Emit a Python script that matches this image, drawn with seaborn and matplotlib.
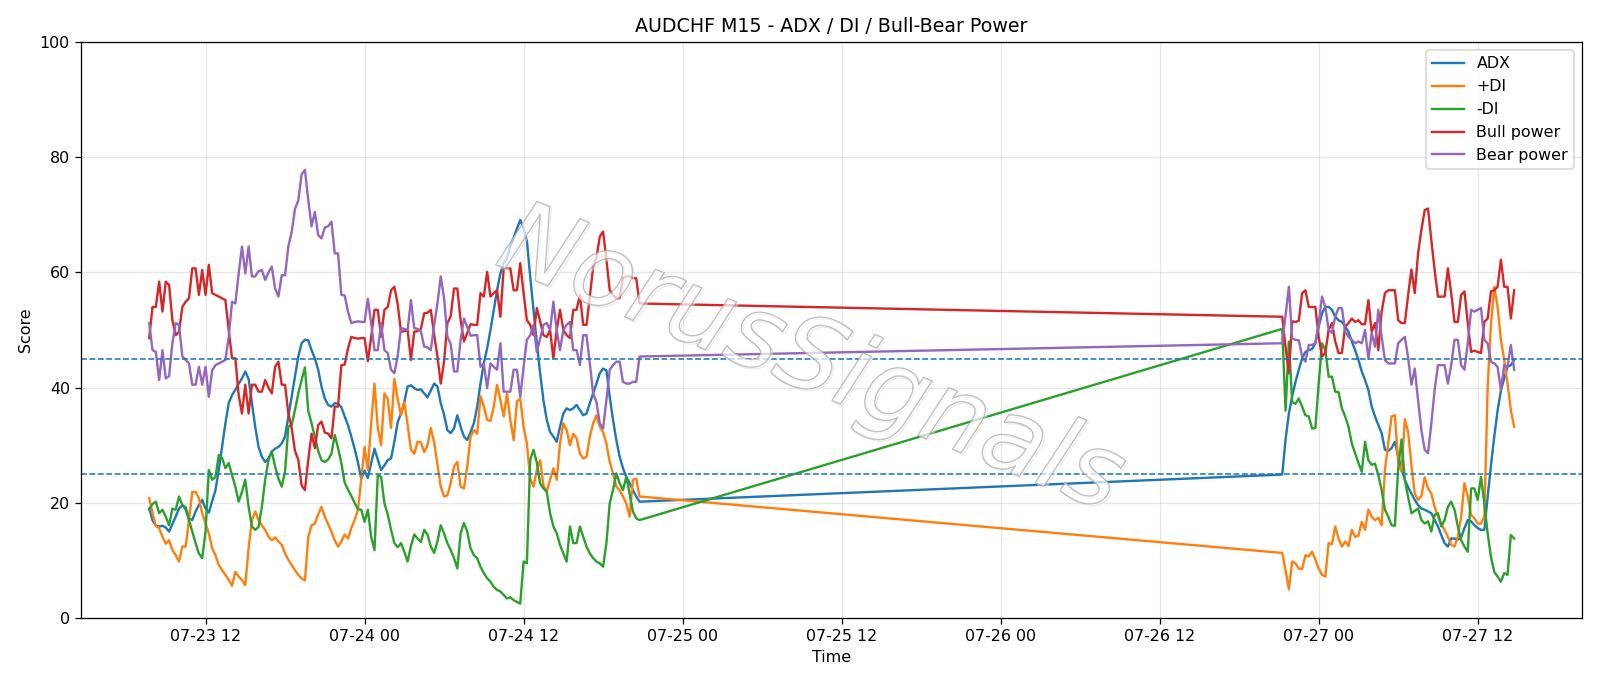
import matplotlib
matplotlib.use("Agg")
import matplotlib.pyplot as plt
import matplotlib.dates as mdates
import matplotlib.patheffects as pe
import pandas as pd
import seaborn as sns

# 基本信息
title = "AUDCHF M15 - ADX / DI / Bull-Bear Power"
watermark = "NorusSignals"

# 两段 M15 数据（周末休市中断）
seg1_start = "2025-07-23 07:45"
seg2_start = "2025-07-26 21:15"

# 第一段：ADX / +DI / -DI / Bull power / Bear power
adx_1 = [
    19, 17, 16, 15.9, 16, 15.7, 15, 16.3, 17.6, 19,
    19.6, 19.2, 17.3, 17, 18.5, 19.6, 20.5, 19, 18.3, 20.3,
    22.2, 25.7, 29.7, 33.8, 37.3, 38.7, 39.6, 40.7, 41.6, 42.8,
    41.5, 37.3, 33.2, 29.7, 28, 27.1, 27.7, 28.9, 29.4, 29.7,
    30.3, 31.5, 35, 38.4, 41.9, 45.4, 47.7, 48.3, 48.2, 46.5,
    45.1, 43.1, 40.2, 38.1, 37, 36.7, 37.3, 37.2, 36.6, 35,
    33.5, 31.5, 29.4, 27, 24.2, 25.6, 24.3, 26.9, 29.4, 27.5,
    25.7, 26.5, 27.4, 27.7, 30.6, 34, 35.5, 37.5, 40.2, 40.4,
    39.9, 39.6, 39.7, 39, 38.3, 39.5, 40.7, 40.2, 37.3, 35.3,
    32.6, 32.1, 32.9, 35.2, 33.2, 31.5, 30.9, 32.3, 33.8, 36.7,
    40.7, 44.2, 46.8, 50, 53.5, 56.9, 59.8, 61.6, 62.5, 64.5,
    66, 67.6, 69.1, 67.6, 65.5, 59.3, 53.5, 47.7, 42.5, 37.8,
    34.4, 32.3, 31.5, 30.6, 33.2, 35.5, 36.4, 36.1, 36.4, 37,
    36.1, 35.2, 35.5, 37.3, 39, 40.7, 42.5, 43.3, 43, 38.4,
    34.4, 30.9, 28, 26, 24.5, 23.4, 22.2, 21.1, 20.2,
]
plus_di_1 = [
    20.8, 18.2, 16, 15.6, 14.1, 12.9, 13.5, 11.8, 10.9, 9.8,
    12.4, 12.4, 17, 21.9, 21.9, 20.8, 18.2, 16.4, 14.7, 12.1,
    10.9, 9.2, 8.3, 7.5, 6.6, 5.6, 8, 7.2, 6.6, 5.7,
    12.1, 17, 18.5, 17, 16.1, 15.3, 14.1, 13.5, 14, 13.3,
    12.7, 11.2, 10.1, 9.2, 8.3, 7.5, 6.9, 6.5, 14, 16.1,
    16.4, 18, 19.3, 17.6, 16.3, 15, 13.5, 12.4, 13.3, 14.5,
    13.8, 15.6, 17, 18.8, 24, 29.7, 25.7, 33.8, 40.7, 33,
    30, 39, 38, 33, 41.5, 38, 35.2, 37.5, 33.5, 29.3,
    28.5, 30.6, 30.5, 28.8, 30, 33, 30.5, 26.6, 22.8, 21.1,
    21.3, 23.4, 26.3, 27.1, 22.8, 22.5, 26.3, 31.5, 32.6, 32,
    38.5, 36.7, 34.4, 34.2, 36.7, 40.5, 37.8, 35, 39, 34.4,
    30.9, 37.6, 38.1, 33.2, 30.3, 24.2, 22.8, 25.7, 27.4, 23,
    21.9, 24, 26, 24, 30.3, 33.8, 32.6, 30, 32, 31.2,
    28.6, 27.7, 28, 31.5, 33.8, 35.2, 33.2, 32.3, 30.3, 27.1,
    25.1, 22.8, 22.2, 21.1, 19.9, 17.6, 24, 24.2, 21.1,
]
minus_di_1 = [
    18.8, 19.8, 20.2, 18.2, 18.8, 17.6, 16.1, 19, 18.8, 21.1,
    19.6, 18.8, 17, 15, 13, 11.2, 10.4, 15, 25.7, 24,
    24.5, 28.3, 27.8, 26, 26.9, 24.8, 22.8, 20.2, 21.9, 24,
    19.3, 15.9, 15.3, 15.8, 19.3, 24, 27.4, 28.9, 26.3, 24.2,
    22.8, 25.4, 33.2, 33.5, 36.1, 39, 41.3, 43.5, 36, 33.8,
    31.5, 29, 27.4, 27.1, 27.5, 28.5, 31.8, 29.5, 26.9, 23.5,
    22.3, 21.2, 20, 18.9, 18.8, 16.7, 18.8, 14.1, 11.8, 24.8,
    24.5, 19.9, 18, 15.3, 13, 12.3, 13, 11.5, 9.8, 12.5,
    14.5, 13.8, 13.2, 15.3, 14.5, 12.4, 11.3, 13.3, 16.1, 14.7,
    13, 11.8, 10.4, 8.6, 14.7, 16.5, 15, 12.1, 10.9, 10.4,
    8.9, 7.8, 6.9, 6.3, 5.4, 4.9, 4.6, 4, 3.4, 3.6,
    3.1, 2.8, 2.5, 9.8, 9.5, 27.5, 29.2, 27, 23.4, 22.5,
    21.9, 18.2, 15.9, 14.7, 12.7, 11.2, 9.8, 15.9, 13, 13,
    15.9, 14.1, 12.4, 11.2, 10.4, 9.8, 9.5, 8.9, 13, 19.9,
    22.2, 25.1, 23.4, 22.2, 24.5, 21.6, 18.5, 17.3, 17,
]
bull_1 = [
    48.6, 54, 54, 58.4, 53.2, 58.4, 57.8, 51.7, 49.1, 49.7,
    54, 54.9, 55.5, 60.7, 60.7, 56.1, 60.4, 56.1, 61.3, 56.4,
    56.1, 55.8, 55.5, 55.2, 50, 45.1, 45.1, 38.7, 35.5, 40.5,
    35.5, 40.5, 40.5, 39.3, 39.3, 41.3, 40, 39, 43.6, 44.5,
    40.5, 40.5, 35.5, 33, 29, 27.5, 23, 22.2, 27.4, 32,
    29.5, 33.5, 34.1, 32.2, 32, 31.2, 36.7, 36.7, 43.9, 44,
    46.8, 48.8, 48.6, 48.5, 48.6, 48.6, 44.6, 48.8, 53.5, 53.5,
    48.8, 53.5, 54, 56.9, 57.5, 54.5, 49.7, 49.8, 50, 44.8,
    49.7, 49.8, 50.2, 52.9, 53, 53.5, 49.2, 45.4, 40.7, 44.5,
    51.2, 52.4, 57.2, 57.2, 51.7, 48, 49.5, 51, 50.9, 50.9,
    56.4, 55.8, 60.1, 55.8, 56.4, 56.9, 52.3, 60.7, 60.7, 60.7,
    56.9, 56.9, 61.6, 56.4, 51.7, 50.9, 49.1, 53.8, 51.5, 49.1,
    48.8, 50, 45.1, 50, 53.5, 50, 49.1, 48.6, 53.5, 53.5,
    56.1, 50.9, 50.9, 55.8, 61, 62.5, 66.2, 67.1, 62.2, 56.9,
    56.1, 55.5, 55.5, 59, 59.3, 59.3, 59, 59, 54.6,
]
bear_1 = [
    51.2, 46.5, 46.2, 41.3, 46.5, 41.6, 42, 47.7, 51.2, 50.9,
    45.4, 44.8, 44.2, 40.5, 40.5, 43.6, 40.5, 43.6, 38.4, 43,
    43.9, 44.2, 44.5, 44.8, 48.8, 54.9, 54.6, 59.8, 64.5, 59.8,
    64.5, 59.3, 59.3, 60.2, 60.4, 58.7, 60, 61, 57.2, 55.8,
    59.5, 59.5, 64.5, 67, 71, 72.5, 77, 77.8, 72.6, 68,
    70.5, 66.5, 65.9, 67.8, 68, 68.8, 63.3, 63.3, 56.1, 56,
    53.2, 51.2, 51.4, 51.5, 51.4, 51.4, 55.4, 51.2, 46.5, 46.5,
    51.2, 46.5, 46, 43.1, 42.5, 45.5, 50.3, 50.2, 50, 55.2,
    50.3, 50.2, 49.8, 47.1, 47, 46.5, 50.8, 54.6, 59.3, 55.5,
    48.8, 47.6, 42.8, 42.8, 48.3, 52, 50.5, 49, 49.1, 49.1,
    43.6, 44.2, 39.9, 44.2, 43.6, 43.1, 47.7, 39.3, 39.3, 39.3,
    43.1, 43.1, 38.4, 43.6, 48.3, 49.1, 50.9, 46.2, 48.5, 50.9,
    51.2, 50, 54.9, 50, 46.5, 50, 50.9, 51.4, 46.5, 46.5,
    43.9, 49.1, 49.1, 44.2, 39, 37.5, 33.8, 32.9, 37.8, 43.1,
    43.9, 44.5, 44.5, 41, 40.7, 40.7, 41, 41, 45.4,
]

# 第二段
adx_2 = [
    24.9, 31, 35.5, 38.5, 41, 43.1, 45.1, 46.2, 46.5, 46.7,
    47.7, 50.6, 52.9, 54, 54, 53.5, 52.3, 51.7, 51.4, 50.6,
    49.7, 48, 46.5, 44.8, 42.8, 41.3, 39.6, 36.7, 35, 33.5,
    32.1, 29.2, 29, 29.5, 30.6, 28, 26, 24, 22.7, 21.6,
    20.5, 19.6, 19, 18.8, 18.5, 18.2, 17, 15.9, 14.4, 13,
    12.4, 13.8, 13.8, 13.6, 14, 15.6, 17, 16.8, 16.1, 15.6,
    15.3, 15.3, 21, 26.5, 31.5, 36, 39.5, 41.6, 43.6, 43.9,
    44.8,
]
plus_di_2 = [
    11.3, 8.3, 5, 9.8, 9.5, 8.6, 8.5, 10.9, 10.7, 11.5,
    10.1, 8.6, 7.5, 7.2, 13, 12.8, 15.9, 13.8, 12.4, 13.3,
    12.5, 15.3, 14.1, 14.3, 16.7, 15.3, 18.8, 17.6, 17, 17.4,
    16.1, 25.7, 30.3, 35, 35.2, 27, 25.4, 34.5, 32.3, 26.5,
    21.6, 20.5, 21.2, 24.4, 22.5, 21.6, 19.3, 17.6, 16.4, 15.3,
    14.1, 12.7, 12.4, 14.1, 17.6, 23.4, 21.1, 17.9, 17.3, 16.4,
    16.4, 17.6, 40, 51, 57.5, 54, 48.3, 44.8, 40.7, 36.1,
    33.2,
]
minus_di_2 = [
    50.2, 36, 48, 37.5, 37.2, 38.1, 36.7, 35.2, 35, 32.9,
    33, 40.7, 47.7, 46.5, 41.9, 41.9, 39.3, 39.2, 36.4, 35,
    33.2, 30.3, 28.6, 26.9, 25.4, 30.6, 27.4, 26.6, 26.8, 24.8,
    22.2, 18.8, 17.6, 16.1, 16, 26, 31, 24, 21, 18.2,
    18.6, 19, 17, 16.4, 16.8, 15, 17.9, 18.2, 15.9, 17,
    19.3, 20.2, 18.8, 15.9, 13.5, 12.4, 11.5, 22.5, 22.5, 20.5,
    24.5, 19.9, 14.7, 10.6, 8, 7.2, 6.3, 7.8, 7.5, 14.4,
    13.8,
]
bull_2 = [
    52.3, 47, 42.5, 51.5, 51.4, 51.6, 56.4, 56.9, 54, 54,
    54, 48.8, 45.4, 46, 50, 51.2, 48, 46, 46, 50.6,
    51.2, 52, 51.4, 51.7, 51, 51, 55.2, 49.7, 51.2, 46.5,
    53.2, 56.4, 56.9, 56.9, 56.9, 51.7, 51.2, 51.2, 56.1, 60.5,
    56.4, 63.3, 67.4, 70.8, 71.1, 65.6, 60.4, 55.8, 55.8, 55.8,
    60.7, 56.4, 51.4, 51.4, 56.1, 56.7, 51.2, 46.2, 46.4, 46.2,
    46, 51.4, 52, 56.7, 56.9, 57.5, 62.2, 57.5, 57.5, 52,
    56.9,
]
bear_2 = [
    47.7, 52.5, 57.5, 48.5, 48.3, 48.2, 45.4, 44.5, 47.4, 47.4,
    47.7, 51.2, 55.8, 54, 50, 49.5, 52.3, 53.8, 53.8, 49.7,
    48.8, 48.3, 47.7, 48, 47.7, 50, 45, 49.5, 47.1, 53.5,
    48.8, 44.8, 44.2, 44.2, 44.2, 47.7, 48.3, 48.8, 45.2, 40.5,
    43.3, 37.8, 32.6, 29.2, 28.6, 33.8, 39.6, 43.9, 43.9, 43.9,
    40.7, 43.9, 48.3, 48.3, 43.9, 43.1, 47.7, 53.5, 53.2, 53.5,
    53.8, 48.3, 47.7, 44.5, 44.2, 43.6, 39.6, 43.9, 43.6, 47.4,
    43.1,
]

# 阈值线
adx_levels = [25, 45]

series_names = ["ADX", "+DI", "-DI", "Bull power", "Bear power"]
series_colors = ["C0", "C1", "C2", "C3", "C4"]


def build_frame():
    """拼接两段数据为一个 DataFrame"""
    t1 = pd.date_range(seg1_start, periods=len(adx_1), freq="15min")
    t2 = pd.date_range(seg2_start, periods=len(adx_2), freq="15min")
    df = pd.DataFrame({
        "Time": list(t1) + list(t2),
        "ADX": adx_1 + adx_2,
        "+DI": plus_di_1 + plus_di_2,
        "-DI": minus_di_1 + minus_di_2,
        "Bull power": bull_1 + bull_2,
        "Bear power": bear_1 + bear_2,
    })
    return df


def plot_chart(df):
    fig, ax = plt.subplots(figsize=(14, 686 / (1600 / 14)))
    fig.subplots_adjust(left=0.0506, right=0.989, top=0.9388, bottom=0.0991)

    for name, color in zip(series_names, series_colors):
        sns.lineplot(data=df, x="Time", y=name, ax=ax, color=color,
                     label=name, linewidth=1.5)

    for lvl in adx_levels:
        ax.axhline(lvl, color="C0", linestyle="--", linewidth=1)

    ax.set_ylim(0, 100)
    ax.xaxis.set_major_locator(mdates.HourLocator(byhour=[0, 12]))
    ax.xaxis.set_major_formatter(mdates.DateFormatter("%m-%d %H"))
    ax.grid(True, alpha=0.3)

    ax.set_title(title)
    ax.set_xlabel("Time")
    ax.set_ylabel("Score")
    ax.legend(loc="upper right")

    # 水印（半透明、细描边）
    ax.text(0.486, 0.445, watermark, transform=ax.transAxes,
            fontsize=64, style="italic", rotation=-22,
            ha="center", va="center", color=(1, 1, 1, 0.35), zorder=10,
            path_effects=[
                pe.Stroke(offset=(1.2, -1.2), linewidth=0.8,
                          foreground=(0.85, 0.85, 0.85, 0.5)),
                pe.Stroke(linewidth=0.9, foreground=(0.62, 0.62, 0.62, 0.75)),
                pe.Normal(),
            ])

    fig.savefig("out.png", dpi=1600 / 14)
    plt.close(fig)


def main():
    df = build_frame()
    plot_chart(df)


if __name__ == "__main__":
    main()
